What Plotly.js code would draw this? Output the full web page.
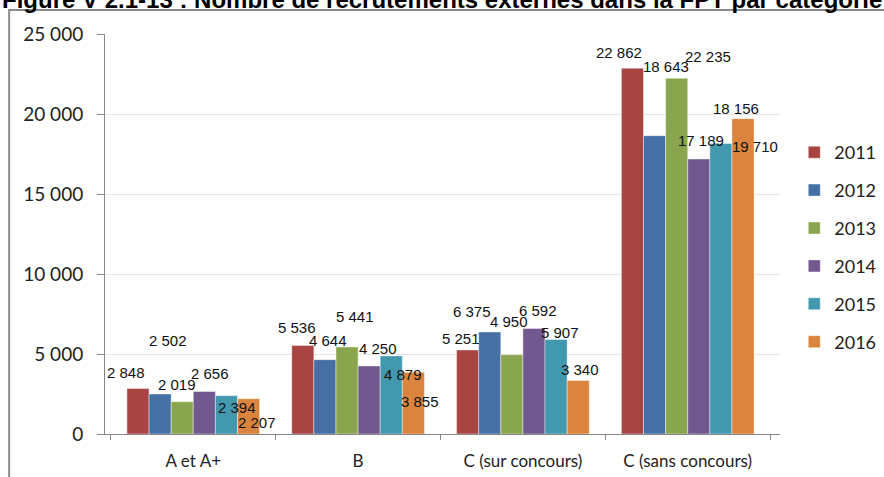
<!DOCTYPE html>
<html>
<head>
<meta charset="utf-8">
<script src="https://cdn.plot.ly/plotly-3.0.1.min.js"></script>
<style>
  html, body { margin: 0; padding: 0; background: #fff; }
  #recrutChart { width: 884px; height: 477px; }
</style>
</head>
<body>
<div id="recrutChart"></div>
<script>
const categories = ['A et A+', 'B', 'C (sur concours)', 'C (sans concours)'];
const years = ['2011', '2012', '2013', '2014', '2015', '2016'];

const v2011 = [2848, 5536, 5251, 22862];
const v2012 = [2502, 4644, 6375, 18643];
const v2013 = [2019, 5441, 4950, 22235];
const v2014 = [2656, 4250, 6592, 17189];
const v2015 = [2394, 4879, 5907, 18156];
const v2016 = [2207, 3855, 3340, 19710];

const yearValues = [v2011, v2012, v2013, v2014, v2015, v2016];
const colors = ['#a84543', '#4470a6', '#89a54e', '#71588f', '#4198af', '#db843d'];

// the source chart has its data labels pushed around; pixel nudges [dx, dy] per year, per category
const labelNudge = [
    [[-12, 16], [-6, 18], [-7, 11], [-13, 16]],
    [[8, 53], [3, 19], [-18, 21], [11, 69]],
    [[-5, 17], [8, 30], [-3, 33], [31, 22]],
    [[6, 18], [9, 18], [4, 18], [2, 18]],
    [[11, -12], [12, -19], [4, 7], [15, 35]],
    [[8, -24], [7, -29], [2, 11], [12, -28]]
];

const barGap = 0.195;
const barW = (1 - barGap) / years.length;

function fmt(n) {
    return String(n).replace(/\B(?=(\d{3})+(?!\d))/g, ' ');
}

const traces = years.map((yr, i) => ({
    x: categories,
    y: yearValues[i],
    type: 'bar',
    name: yr,
    legendgroup: yr,
    marker: { color: colors[i], line: { color: 'rgba(255,255,255,0.7)', width: 0.6 } },
    hoverinfo: 'x+y+name'
}));

const annotations = [];
years.forEach((yr, i) => {
    yearValues[i].forEach((val, c) => {
        annotations.push({
            x: c + (i - 2.5) * barW,
            y: val,
            xref: 'x',
            yref: 'y',
            text: fmt(val),
            showarrow: false,
            xanchor: 'center',
            yanchor: 'middle',
            xshift: labelNudge[i][c][0],
            yshift: labelNudge[i][c][1],
            font: { family: 'Liberation Sans, Arial, sans-serif', size: 15, color: '#111' }
        });
    });
});

// heading sits half outside the top edge, as in the cropped source
annotations.push({
    text: 'Figure V 2.1-13 : Nombre de recrutements externes dans la FPT par catégorie',
    xref: 'paper',
    yref: 'paper',
    x: -0.1556,
    xanchor: 'left',
    y: 1.0875,
    yanchor: 'middle',
    showarrow: false,
    font: { family: 'Liberation Sans, Arial, sans-serif', size: 24, color: '#000', weight: 'bold' }
});

const layout = {
    width: 884,
    height: 477,
    margin: { l: 105, r: 104, t: 34, b: 43 },
    paper_bgcolor: '#fff',
    plot_bgcolor: '#fff',
    separators: ', ',
    barmode: 'group',
    bargap: barGap,
    bargroupgap: 0,
    xaxis: {
        type: 'category',
        showline: true,
        linecolor: '#868686',
        linewidth: 1,
        ticks: 'outside',
        tickson: 'boundaries',
        ticklen: 5,
        tickcolor: '#868686',
        ticklabelstandoff: 12,
        showgrid: false,
        tickfont: { family: 'Lato, sans-serif', size: 17, color: '#222' },
        fixedrange: true
    },
    yaxis: {
        range: [0, 25000],
        tickvals: [0, 5000, 10000, 15000, 20000, 25000],
        tickformat: ',d',
        showline: true,
        linecolor: '#868686',
        linewidth: 1,
        ticks: 'outside',
        ticklen: 7,
        tickcolor: '#868686',
        ticklabelstandoff: 10,
        showgrid: true,
        gridcolor: '#e6e6e6',
        zeroline: false,
        tickfont: { family: 'Lato, sans-serif', size: 19, color: '#222' },
        fixedrange: true
    },
    legend: {
        x: 0.8985,
        xref: 'container',
        xanchor: 'left',
        y: 0.4675,
        yanchor: 'middle',
        traceorder: 'grouped',
        tracegroupgap: 11.5,
        font: { family: 'Lato, sans-serif', size: 18, color: '#222' },
        bgcolor: 'rgba(0,0,0,0)'
    },
    shapes: [{
        type: 'rect',
        xref: 'paper',
        yref: 'paper',
        x0: -0.142,
        x1: 1.3,
        y0: -0.2,
        y1: 1.06,
        line: { color: '#8c8c8c', width: 2 },
        fillcolor: 'rgba(0,0,0,0)',
        layer: 'below'
    }],
    annotations: annotations
};

Plotly.newPlot('recrutChart', traces, layout, { displayModeBar: false, staticPlot: true });
</script>
</body>
</html>
